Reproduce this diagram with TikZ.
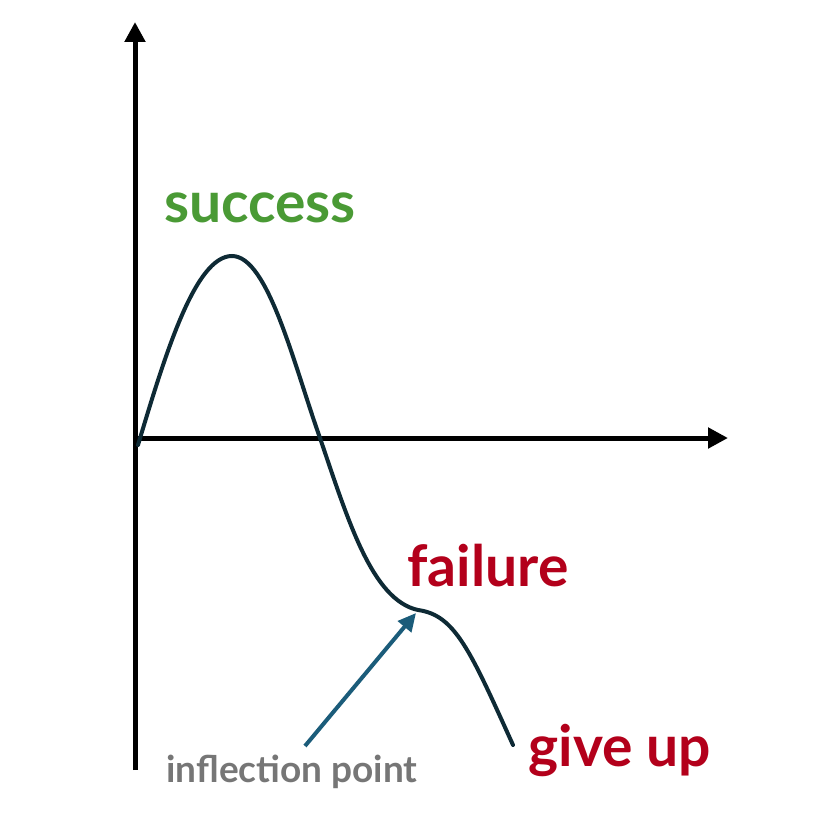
\documentclass[tikz,border=0pt]{standalone}
\usepackage{fontspec}
\setmainfont{Lato}
\usetikzlibrary{arrows.meta}
\definecolor{curvecol}{HTML}{0E2A35}
\definecolor{arrowcol}{HTML}{1B5C7A}
\definecolor{goodgreen}{HTML}{4A9A35}
\definecolor{badred}{HTML}{B3001B}
\definecolor{notegray}{HTML}{767676}
\tikzset{
  axis/.style={line width=5pt, -{Triangle[length=20pt,width=20pt]}},
  curve/.style={line width=4pt, draw=curvecol, line cap=round},
  pointer/.style={line width=4pt, draw=arrowcol, -{Triangle[length=18pt,width=17pt]}},
  bigtext/.style={font=\fontsize{57}{62}\selectfont\bfseries, inner sep=0pt},
  smalltext/.style={font=\fontsize{37}{40}\selectfont\bfseries, text=notegray, inner sep=0pt}
}
\begin{document}
\begin{tikzpicture}[x=1pt,y=-1pt]
\useasboundingbox (0,0) rectangle (826,824);
\fill[white] (0,0) rectangle (826,824);
\coordinate (ybot) at (135,770);
\coordinate (ytop) at (135,22);
\coordinate (xleft) at (133,438);
\coordinate (xright) at (728,438);
\draw[axis] (ybot) -- (ytop);
\draw[axis] (xleft) -- (xright);
\draw[curve] (138,445) .. controls (165,355) and (195,256) .. (232,256)
  .. controls (268,256) and (294,365) .. (320,438)
  .. controls (348,520) and (372,600) .. (418,610)
  .. controls (455,615) and (470,650) .. (513,745);
\coordinate (ptail) at (305,746);
\coordinate (phead) at (416,613);
\draw[pointer] (ptail) -- (phead);
\node[bigtext, text=goodgreen] (success) at (260,208) {success};
\node[bigtext, text=badred] (failure) at (488,566) {failure};
\node[bigtext, text=badred] (giveup) at (620,750) {give up};
\node[smalltext] (inflection) at (292,772) {inflection point};
\end{tikzpicture}
\end{document}
